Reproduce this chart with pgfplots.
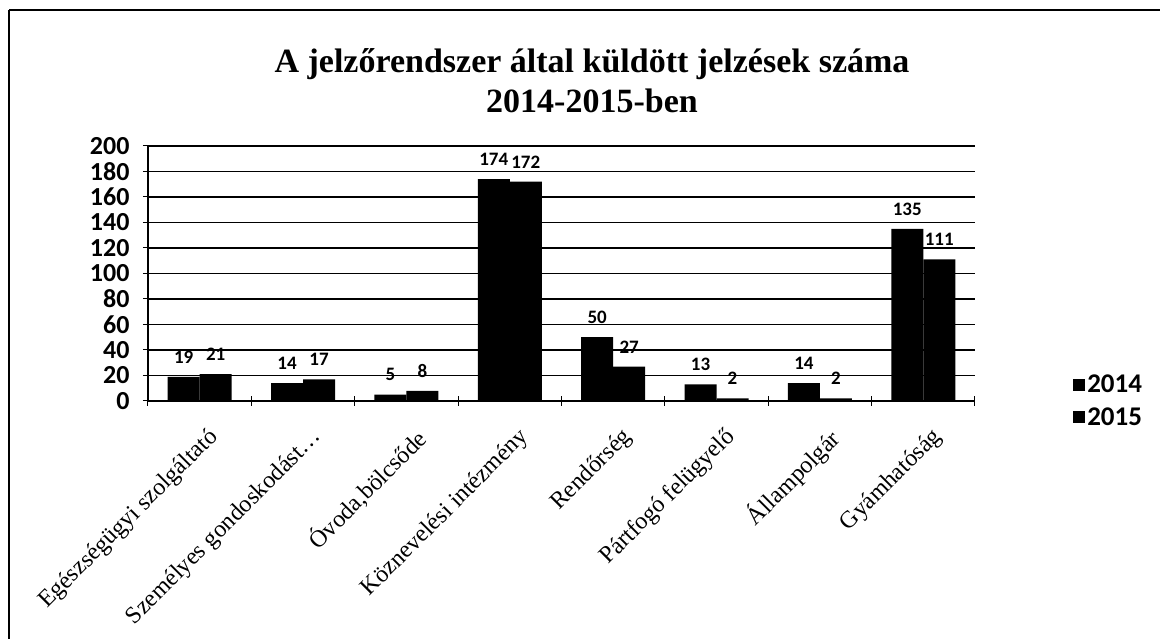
\documentclass[border=0pt]{standalone}
\usepackage{pgfplots}
\pgfplotsset{compat=1.18}
\usepackage{fontspec}
\setmainfont{Liberation Serif}
\newfontfamily\carlito{Carlito}
\begin{document}
\begin{tikzpicture}[x=1pt,y=1pt]
\path[use as bounding box] (0,0) rectangle (1160,639);
\draw[line width=2pt] (9,629) -- (1160,629);
\draw[line width=1.5pt] (9,629) -- (9,0);
\node[font=\bfseries\fontsize{34}{34}\selectfont] at (592,575) {A jelzőrendszer által küldött jelzések száma};
\node[font=\bfseries\fontsize{34}{34}\selectfont] at (592,538) {2014-2015-ben};
\begin{axis}[
  at={(148pt,238pt)}, anchor=south west,
  scale only axis, width=827pt, height=255pt,
  ybar=0pt, bar width=32pt,
  xmin=-0.5, xmax=7.5, ymin=0, ymax=200,
  ytick={0,20,...,200},
  xtick={0,...,7},
  xticklabels={Egészségügyi szolgáltató,Személyes gondoskodást\ldots,{Óvoda,bölcsőde},Köznevelési intézmény,Rendőrség,Pártfogó felügyelő,Állampolgár,Gyámhatóság},
  minor xtick={-0.5,0.5,...,7.5},
  axis x line=bottom, axis y line=left,
  axis line style={-, line width=1.2pt},
  major x tick style={draw=none},
  minor x tick style={line width=1pt, black},
  minor tick length=10pt,
  ytick style={line width=1pt, black},
  major tick length=10pt,
  tick align=center,
  ymajorgrids, grid style={black, line width=1.1pt},
  /pgf/number format/assume math mode=true,
  yticklabel style={font=\carlito\bfseries\fontsize{26}{26}\selectfont, xshift=-10pt},
  xticklabel style={font=\fontsize{24}{24}\selectfont, rotate=45, anchor=north east, inner sep=1pt, xshift=-8pt, yshift=-18pt},
  nodes near coords,
  every node near coord/.append style={font=\carlito\bfseries\fontsize{19}{19}\selectfont, yshift=10pt},
  legend style={at={(1.115,0)}, anchor=west, draw=none, fill=none,
    font=\carlito\bfseries\fontsize{27}{27}\selectfont, row sep=9pt},
  legend cell align=left,
  legend image code/.code={\fill (0pt,-6pt) rectangle (12pt,6pt);},
]
\addplot[fill=black, draw=none] coordinates {(0,19) (1,14) (2,5) (3,174) (4,50) (5,13) (6,14) (7,135)};
\addplot[fill=black, draw=none] coordinates {(0,21) (1,17) (2,8) (3,172) (4,27) (5,2) (6,2) (7,111)};
\legend{2014,2015}
\end{axis}
\end{tikzpicture}
\end{document}
